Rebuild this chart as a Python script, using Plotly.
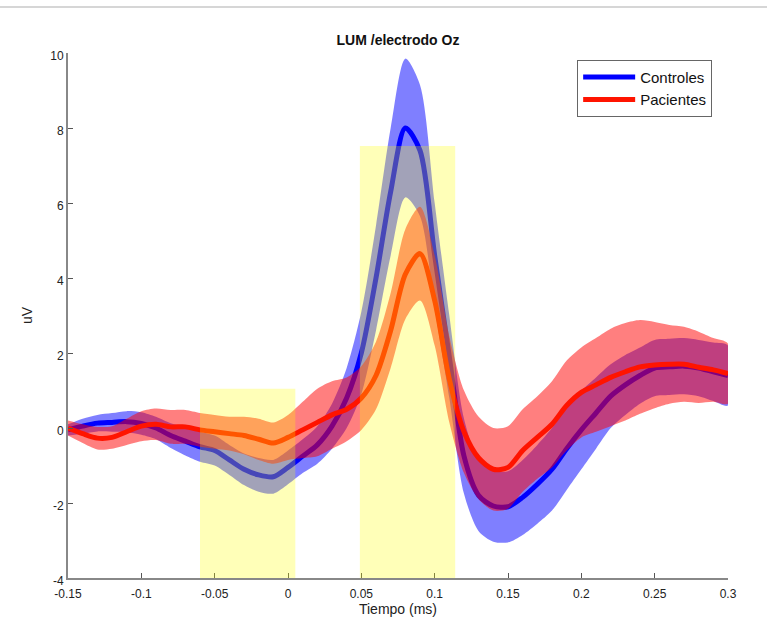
import plotly.graph_objects as go

# ---- data ----
t = [-0.15, -0.14, -0.13, -0.12, -0.11, -0.10, -0.09, -0.08, -0.07, -0.06,
     -0.05, -0.04, -0.03, -0.02, -0.01, 0.00, 0.01, 0.02, 0.03, 0.04,
     0.05, 0.06, 0.07, 0.08, 0.09, 0.10, 0.11, 0.12, 0.13, 0.14,
     0.15, 0.16, 0.17, 0.18, 0.19, 0.20, 0.21, 0.22, 0.23, 0.24,
     0.25, 0.26, 0.27, 0.28, 0.29, 0.30]

controles_mean = [-0.05, 0.05, 0.13, 0.15, 0.17, 0.12, 0.0, -0.2, -0.35, -0.5,
                  -0.6, -0.85, -1.1, -1.25, -1.3, -1.05, -0.75, -0.45, 0.05, 0.8,
                  2.0, 4.0, 6.3, 8.0, 7.4, 4.6, 1.9, -0.75, -1.8, -2.08,
                  -2.1, -1.85, -1.5, -1.1, -0.55, -0.05, 0.4, 0.85, 1.15, 1.4,
                  1.6, 1.63, 1.65, 1.6, 1.5, 1.4]
controles_sd = [0.15, 0.2, 0.22, 0.25, 0.28, 0.3, 0.3, 0.33, 0.38, 0.4,
                0.4, 0.4, 0.42, 0.45, 0.45, 0.45, 0.45, 0.5, 0.6, 0.8,
                1.1, 1.4, 1.7, 1.85, 1.75, 1.4, 1.1, 1.0, 0.95, 0.95,
                0.95, 1.0, 1.05, 1.1, 1.1, 1.05, 0.95, 0.85, 0.8, 0.75,
                0.75, 0.75, 0.75, 0.75, 0.78, 0.8]

pacientes_mean = [0.0, -0.15, -0.27, -0.25, -0.1, 0.05, 0.1, 0.03, 0.03, -0.05,
                  -0.1, -0.15, -0.2, -0.3, -0.4, -0.25, -0.05, 0.15, 0.35, 0.5,
                  0.8, 1.4, 2.6, 4.1, 4.65, 3.4, 1.3, -0.1, -0.8, -1.1,
                  -1.05, -0.6, -0.25, 0.1, 0.6, 0.95, 1.15, 1.35, 1.5, 1.63,
                  1.68, 1.7, 1.7, 1.62, 1.55, 1.45]
pacientes_sd = [0.2, 0.25, 0.3, 0.3, 0.35, 0.4, 0.42, 0.45, 0.45, 0.45,
                0.45, 0.45, 0.5, 0.55, 0.55, 0.6, 0.75, 0.9, 0.9, 0.85,
                0.85, 0.9, 1.0, 1.2, 1.25, 1.2, 1.15, 1.1, 1.1, 1.1,
                1.1, 1.1, 1.1, 1.15, 1.2, 1.2, 1.25, 1.3, 1.3, 1.25,
                1.15, 1.05, 1.0, 0.95, 0.85, 0.8]

windows_t0 = [-0.06, 0.049]
windows_t1 = [0.005, 0.114]
windows_top = [1.05, 7.52]

x_ticks = [-0.15, -0.1, -0.05, 0, 0.05, 0.1, 0.15, 0.2, 0.25, 0.3]
x_ticktext = ["-0.15", "-0.1", "-0.05", "0", "0.05", "0.1", "0.15", "0.2", "0.25", "0.3"]
y_ticks = [-4, -2, 0, 2, 4, 6, 8, 10]
y_ticktext = ["-4", "-2", "0", "2", "4", "6", "8", "10"]

# ---- figure ----
fig = go.Figure()

def band(mean, sd, color):
    up = [m + s for m, s in zip(mean, sd)]
    lo = [m - s for m, s in zip(mean, sd)]
    return go.Scatter(x=t + t[::-1], y=up + lo[::-1], fill="toself",
                      fillcolor=color, line=dict(width=0, shape="spline", smoothing=0.8),
                      mode="lines", hoverinfo="skip", showlegend=False)

fig.add_trace(band(controles_mean, controles_sd, "rgba(0,0,255,0.5)"))
fig.add_trace(go.Scatter(x=t, y=controles_mean, mode="lines", name="Controles",
                         line=dict(color="rgb(0,0,255)", width=5, shape="spline", smoothing=0.8)))
fig.add_trace(band(pacientes_mean, pacientes_sd, "rgba(255,0,0,0.5)"))
fig.add_trace(go.Scatter(x=t, y=pacientes_mean, mode="lines", name="Pacientes",
                         line=dict(color="rgb(255,20,0)", width=5, shape="spline", smoothing=0.8)))

for a, b, top in zip(windows_t0, windows_t1, windows_top):
    fig.add_shape(type="rect", xref="x", yref="y", x0=a, x1=b, y0=-4, y1=top,
                  fillcolor="rgb(255,255,0)", opacity=0.28, line=dict(width=0),
                  layer="above")

# thin grey line at the very top of the image
fig.add_shape(type="line", xref="paper", yref="paper",
              x0=-68 / 660, x1=(767 - 68) / 660, y0=(578 - 7) / 525, y1=(578 - 7) / 525,
              line=dict(color="#c8c8c8", width=1.5))

font = "Liberation Sans, Arial, sans-serif"
fig.update_layout(
    width=767, height=619,
    margin=dict(l=68, r=39, t=53, b=41, autoexpand=False),
    paper_bgcolor="white", plot_bgcolor="white",
    font=dict(family=font, color="#222", size=12),
    title=dict(text="<b>LUM /electrodo Oz</b>", x=0.5, xref="paper", y=1 - 40 / 619,
               yanchor="middle", font=dict(size=14, color="#111")),
    showlegend=True,
    legend=dict(x=0.976, y=0.987, xanchor="right", yanchor="top",
                bgcolor="white", bordercolor="#666", borderwidth=1,
                font=dict(size=15, color="#111"), tracegroupgap=0,
                itemwidth=52),
    xaxis=dict(range=[-0.15, 0.3], tickvals=x_ticks, ticktext=x_ticktext,
               showgrid=False, zeroline=False, showline=True, linecolor="#888",
               linewidth=2, ticks="inside", ticklen=5, tickcolor="#555",
               tickfont=dict(size=12, color="#222"), automargin=False,
               ticklabelstandoff=4,
               title=dict(text="Tiempo (ms)", font=dict(size=14, color="#222"), standoff=0)),
    yaxis=dict(range=[-4, 10], tickvals=y_ticks, ticktext=y_ticktext,
               showgrid=False, zeroline=False, showline=True, linecolor="#888",
               linewidth=2, ticks="inside", ticklen=5, tickcolor="#555",
               tickfont=dict(size=12, color="#222"), automargin=False,
               ticklabelshift=3,
               title=dict(text="uV", font=dict(size=14, color="#222"), standoff=14)),
)

fig.write_html("out.html", config={"displayModeBar": False},
               post_script="document.body.style.margin='0';document.body.style.padding='0';window.dispatchEvent(new Event('resize'));")
